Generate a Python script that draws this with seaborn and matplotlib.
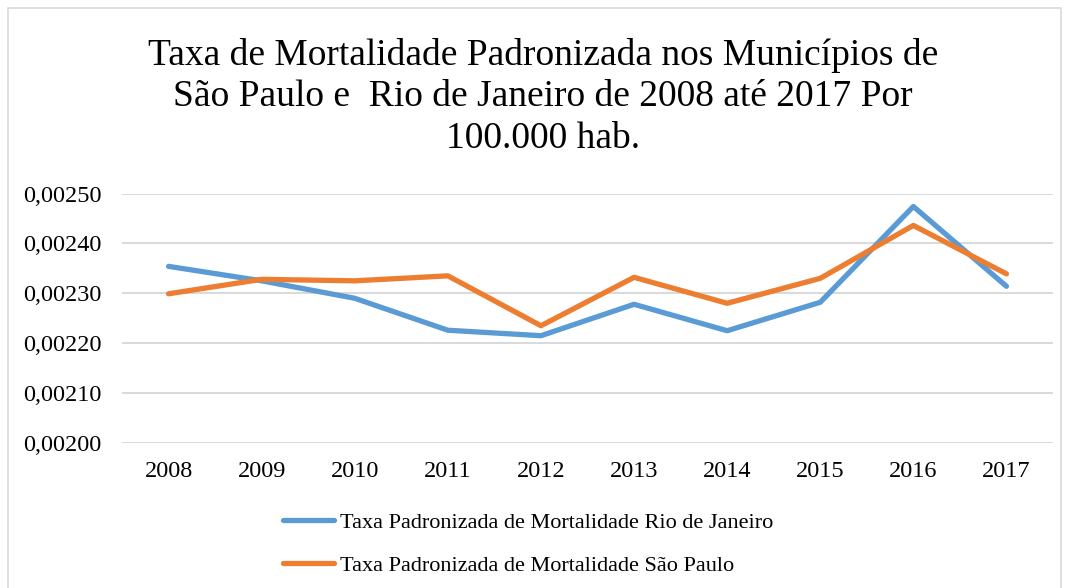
import numpy as np
import pandas as pd
import matplotlib
import matplotlib.pyplot as plt
import seaborn as sns
from matplotlib.ticker import FuncFormatter
from matplotlib.patches import Rectangle
matplotlib.use('Agg')

anos = ['2008', '2009', '2010', '2011', '2012', '2013', '2014', '2015', '2016', '2017']
rio = [0.002354, 0.002325, 0.002290, 0.002226, 0.002215, 0.002278, 0.002225, 0.002282, 0.002474, 0.002314]
sp = [0.002299, 0.002328, 0.002325, 0.002335, 0.002235, 0.002332, 0.002280, 0.002330, 0.002436, 0.002339]
nome_rio = 'Taxa Padronizada de Mortalidade Rio de Janeiro'
nome_sp = 'Taxa Padronizada de Mortalidade São Paulo'

df = pd.DataFrame({'ano': anos * 2,
                   'taxa': rio + sp,
                   'serie': [nome_rio] * len(anos) + [nome_sp] * len(anos)})
df['pos'] = df['ano'].map({a: i for i, a in enumerate(anos)})

sns.set_style('white')
plt.rcParams['font.family'] = ['Liberation Serif', 'DejaVu Serif']
plt.rcParams['text.color'] = 'black'

fig = plt.figure(figsize=(10.69, 5.88), dpi=100)
ax = fig.add_axes([122 / 1069, 1 - 443 / 588, 931 / 1069, 249.5 / 588])

# borda do grafico
fig.patches.append(Rectangle((8 / 1069, -0.01), 1 - 16 / 1069, 1 - 8 / 588 + 0.01,
                             transform=fig.transFigure, fill=False,
                             edgecolor='#D9D9D9', linewidth=1.2))

sns.lineplot(data=df, x='pos', y='taxa', hue='serie', ax=ax,
             palette={nome_rio: '#5B9BD5', nome_sp: '#ED7D31'},
             linewidth=3.8, solid_capstyle='round', legend=False)

ax.set_xlim(-0.5, len(anos) - 0.5)
ax.set_ylim(0.0020, 0.0025)
ax.set_yticks(np.arange(0.0020, 0.00251, 0.0001))
ax.yaxis.set_major_formatter(FuncFormatter(lambda v, p: f'{v:.5f}'.replace('.', ',')))
ax.set_xticks(range(len(anos)))
ax.set_xticklabels(anos)
ax.tick_params(axis='both', labelsize=17.5, length=0, colors='black')
ax.tick_params(axis='x', pad=13)
ax.tick_params(axis='y', pad=14.5)
ax.grid(axis='y', color='#D9D9D9', linewidth=1.4)
ax.set_axisbelow(True)
for s in ax.spines.values():
    s.set_visible(False)
ax.set_xlabel('')
ax.set_ylabel('')

fig.text(0.508, 1 - 97 / 588,
         'Taxa de Mortalidade Padronizada nos Municípios de\nSão Paulo e  Rio de Janeiro de 2008 até 2017 Por\n100.000 hab.',
         ha='center', va='center', fontsize=27, linespacing=1.27, color='black')

handles = [plt.Line2D([], [], color='#5B9BD5', linewidth=3.8, solid_capstyle='round'),
           plt.Line2D([], [], color='#ED7D31', linewidth=3.8, solid_capstyle='round')]
leg = fig.legend(handles, [nome_rio, nome_sp], loc='center', bbox_to_anchor=(0.494, 1 - 544 / 588),
                 ncol=1, frameon=False, fontsize=16, handlelength=2.3, handletextpad=0.3,
                 labelspacing=1.0)
for t in leg.get_texts():
    t.set_color('black')

plt.savefig('out.png', dpi=100)
